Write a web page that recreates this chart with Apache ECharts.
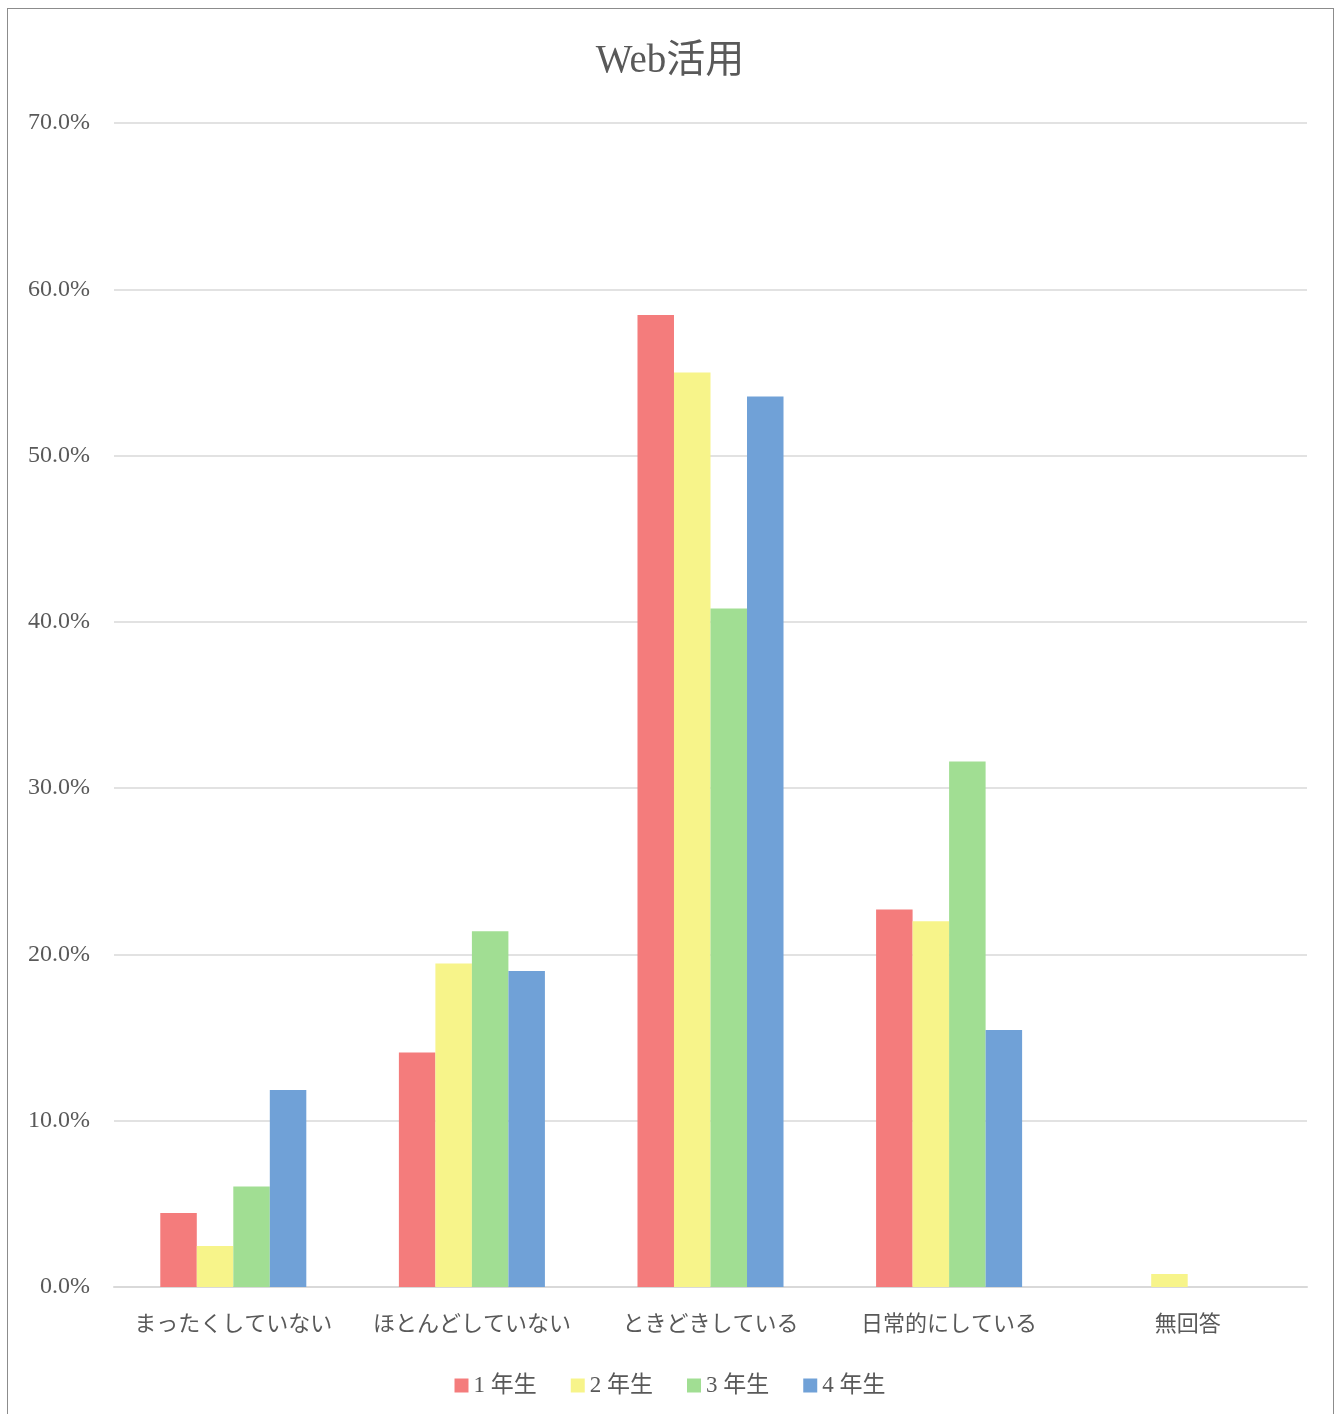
<!DOCTYPE html>
<html>
<head>
<meta charset="utf-8">
<script src="https://cdn.jsdelivr.net/npm/echarts@6/dist/echarts.min.js"></script>
<style>
  html, body { margin: 0; padding: 0; background: #fff; }
  #frame { position: absolute; left: 7px; top: 8px; width: 1327px; height: 1420px; border: 1px solid #8c8c8c; box-sizing: border-box; }
  #main { position: absolute; left: 0; top: 0; width: 1340px; height: 1414px; }
</style>
</head>
<body>
<div id="frame"></div>
<div id="main"></div>
<script>
  const categories = ["まったくしていない", "ほとんどしていない", "ときどきしている", "日常的にしている", "無回答"];
  const seriesNames = ["1 年生", "2 年生", "3 年生", "4 年生"];
  const grade1 = [4.45, 14.1, 58.45, 22.7, 0];
  const grade2 = [2.47, 19.45, 55.0, 22.0, 0.78];
  const grade3 = [6.05, 21.4, 40.8, 31.6, 0];
  const grade4 = [11.85, 19.0, 53.55, 15.45, 0];
  const colors = ["#F47C7C", "#F7F48A", "#A1DE93", "#70A1D7"];

  const font = "'Liberation Serif', 'DejaVu Serif', 'Noto Sans CJK JP', serif";
  const chart = echarts.init(document.getElementById("main"));
  const allData = [grade1, grade2, grade3, grade4];

  chart.setOption({
    color: colors,
    animation: false,
    textStyle: { fontFamily: font, color: "#595959" },
    title: {
      text: "Web活用",
      left: "center",
      top: 37,
      textStyle: { fontFamily: font, fontSize: 39, fontWeight: "normal", color: "#595959" }
    },
    legend: {
      bottom: 12,
      left: "center",
      itemWidth: 14,
      itemHeight: 14,
      itemGap: 34,
      itemTextGap: 12,
      icon: "rect",
      textStyle: { fontFamily: font, fontSize: 23, color: "#595959" },
      data: seriesNames
    },
    grid: { left: 114, right: 33, top: 123, bottom: 127 },
    xAxis: {
      type: "category",
      data: categories,
      axisLine: { lineStyle: { color: "#d9d9d9", width: 2 } },
      axisTick: { show: false },
      axisLabel: { interval: 0, fontFamily: font, fontSize: 22, color: "#595959", margin: 27 }
    },
    yAxis: {
      type: "value",
      min: 0,
      max: 70,
      interval: 10,
      axisLine: { show: false },
      axisTick: { show: false },
      splitLine: { lineStyle: { color: "#d9d9d9", width: 1.5 } },
      axisLabel: {
        fontFamily: font, fontSize: 24, color: "#595959", margin: 24,
        formatter: v => v.toFixed(1) + "%"
      }
    },
    series: seriesNames.map((name, i) => ({
      name: name,
      type: "bar",
      data: allData[i],
      barGap: "0%",
      barCategoryGap: "38.8%"
    }))
  });
</script>
</body>
</html>
